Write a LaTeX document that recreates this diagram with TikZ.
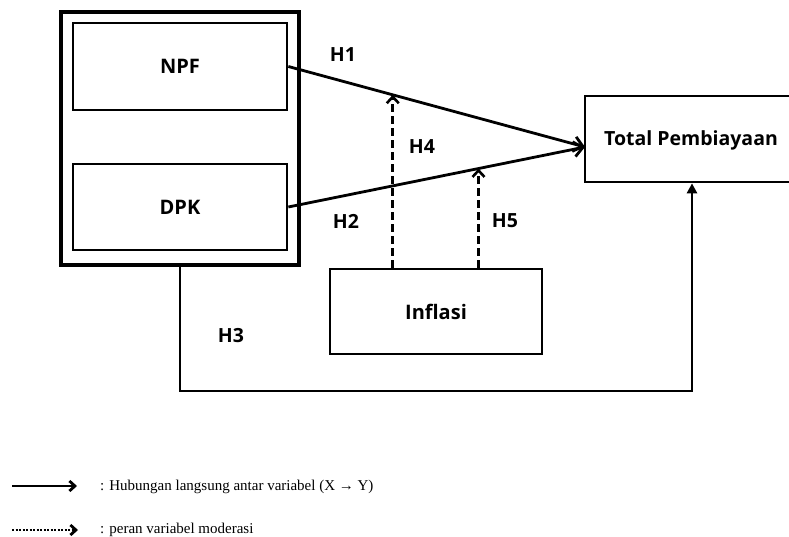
\documentclass[tikz,border=0pt]{standalone}
\usepackage{fontspec}
\usetikzlibrary{arrows.meta,calc}
\newfontfamily\labfont{Open Sans}
\newfontfamily\legfont{Liberation Serif}
\tikzset{
  box/.style={draw, line width=2.7pt, inner sep=0pt, font=\labfont\bfseries\fontsize{20}{22}\selectfont},
  lab/.style={inner sep=0pt, font=\labfont\bfseries\fontsize{19.5}{22}\selectfont},
  conn/.style={line width=2.8pt, -{Straight Barb[length=9pt,width=15pt,line width=2.8pt]}},
  modconn/.style={line width=2.8pt, dash pattern=on 8pt off 4pt, -{Straight Barb[length=6.5pt,width=12pt,line width=2.6pt]}},
  legtxt/.style={anchor=west, inner sep=0pt, font=\legfont\fontsize{15}{18}\selectfont},
}
\begin{document}
\begin{tikzpicture}[x=1pt,y=-1pt]
\useasboundingbox (0,0) rectangle (789,537);
\fill[white] (0,0) rectangle (789,537);
% boxes
\node[draw, line width=3.3pt, minimum width=238pt, minimum height=253pt, inner sep=0pt] (outer) at (180,138.5) {};
\node[box, minimum width=214pt, minimum height=87pt] (npf) at (180,66.5) {NPF};
\node[box, minimum width=214pt, minimum height=86pt] (dpk) at (180,207) {DPK};
\node[box, minimum width=214pt, minimum height=86pt] (tot) at (692,139) {};
\node[lab] (totl) at (691,140) {Total Pembiayaan};
\node[box, minimum width=212pt, minimum height=85pt] (infl) at (436,311.5) {Inflasi};
% connectors
\coordinate (tin) at (585,147);
\draw[conn] (npf.east) -- (tin);
\draw[conn] (dpk.east) -- (tin);
\coordinate (m1) at ($(npf.east)!0.352!(tin)$);
\coordinate (m2) at ($(dpk.east)!0.641!(tin)$);
\draw[modconn] (infl.north -| m1) -- (m1);
\draw[modconn] (infl.north -| m2) -- (m2);
\coordinate (c1) at (180,391);
\draw[line width=2.7pt, -{Triangle[length=10pt,width=10pt]}] (c1 |- outer.south) -- (c1) -| (tot.south);
% labels
\node[lab] (h1) at (343,55) {H1};
\node[lab] (h4) at (422,147) {H4};
\node[lab] (h2) at (346,221) {H2};
\node[lab] (h5) at (505,221) {H5};
\node[lab] (h3) at (231,336) {H3};
% legend
\coordinate (l1a) at (12,486);
\coordinate (l1b) at (77,486);
\draw[line width=2.4pt, -{Straight Barb[length=5.5pt,width=10pt,line width=2.8pt]}] (l1a) -- (l1b);
\node[legtxt] (leg1) at (100,487) {: Hubungan langsung antar variabel (X → Y)};
\coordinate (l2a) at (12,530);
\coordinate (l2b) at (78,530);
\draw[line width=2.2pt, dash pattern=on 2pt off 1.5pt, -{Straight Barb[length=5.5pt,width=10pt,line width=2.8pt]}] (l2a) -- (l2b);
\node[legtxt] (leg2) at (100,530) {: peran variabel moderasi};
\end{tikzpicture}
\end{document}
